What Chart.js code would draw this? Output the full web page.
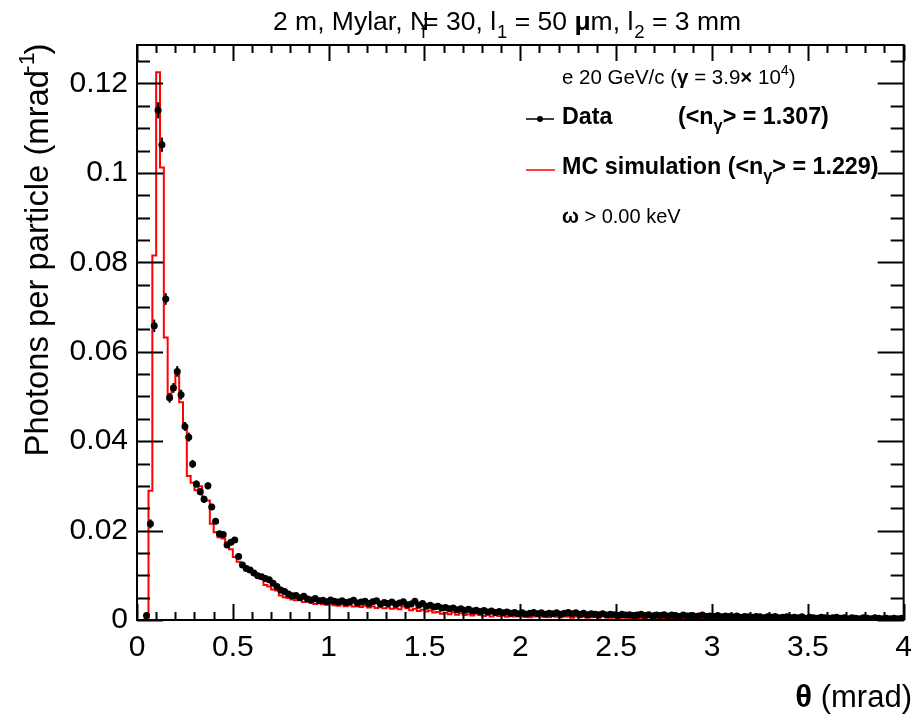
<!DOCTYPE html>
<html>
<head>
<meta charset="utf-8">
<script src="https://cdn.jsdelivr.net/npm/chart.js@4.4.1/dist/chart.umd.min.js"></script>
<style>
  html, body { margin: 0; padding: 0; background: #fff; }
  #wrap { width: 922px; height: 720px; }
</style>
</head>
<body>
<div id="wrap"><canvas id="myChart" width="922" height="720"></canvas></div>
<script>
// histogram binning (theta, mrad)
var binStart = 0, binWidth = 0.02;

// MC simulation, content of each 0.02 mrad bin
var mcValues = [
  0, 0, 0.0005, 0.0289, 0.0815, 0.1225, 0.1012, 0.0632, 0.0497, 0.0520,
  0.0553, 0.0487, 0.0433, 0.0322, 0.0307, 0.0290, 0.0299, 0.0267, 0.0267, 0.0215,
  0.0196, 0.0185, 0.0182, 0.0173, 0.0158, 0.0141, 0.0130, 0.0125, 0.0119, 0.0108,
  0.0104, 0.0097, 0.0098, 0.0078, 0.0075, 0.0068, 0.0066, 0.0055, 0.0051, 0.0049,
  0.0046, 0.0044, 0.0045, 0.0040, 0.0042, 0.0038, 0.0036, 0.0039, 0.0035, 0.0034,
  0.0036, 0.0033, 0.0032, 0.0034, 0.0031, 0.0033, 0.0030, 0.0031, 0.0029, 0.0032,
  0.0028, 0.0030, 0.0027, 0.0029, 0.0026, 0.0028, 0.0025, 0.0027, 0.0024, 0.0030,
  0.0026, 0.0022, 0.0025, 0.0020, 0.0023, 0.0019, 0.0021, 0.0017, 0.0018, 0.0014,
  0.0016, 0.0013, 0.0017, 0.0012, 0.0015, 0.0011, 0.0013, 0.0010, 0.0014, 0.0011,
  0.0009, 0.0012, 0.0008, 0.0011, 0.0009, 0.0010, 0.0007, 0.0009, 0.0008, 0.0010,
  0.0007, 0.0009, 0.0006, 0.0008, 0.0010, 0.0007, 0.0008, 0.0006, 0.0009, 0.0007,
  0.0006, 0.0008, 0.0007, 0.0005, 0.0008, 0.0006, 0.0007, 0.0005, 0.0006, 0.0007,
  0.0005, 0.0013, 0.0006, 0.0005, 0.0006, 0.0004, 0.0005, 0.0006, 0.0004, 0.0005,
  0.0004, 0.0005, 0.0004, 0.0006, 0.0004, 0.0005, 0.0003, 0.0004, 0.0005, 0.0004,
  0.0003, 0.0004, 0.0005, 0.0003, 0.0004, 0.0003, 0.0004, 0.0003, 0.0005, 0.0003,
  0.0004, 0.0003, 0.0002, 0.0004, 0.0003, 0.0003, 0.0004, 0.0002, 0.0003, 0.0004,
  0.0003, 0.0002, 0.0003, 0.0004, 0.0002, 0.0003, 0.0003, 0.0002, 0.0004, 0.0003,
  0.0002, 0.0003, 0.0002, 0.0003, 0.0004, 0.0002, 0.0003, 0.0002, 0.0003, 0.0002,
  0.0003, 0.0002, 0.0004, 0.0002, 0.0003, 0.0002, 0.0002, 0.0003, 0.0002, 0.0003,
  0.0002, 0.0003, 0.0002, 0.0002, 0.0003, 0.0002, 0.0003, 0.0002, 0.0002, 0.0003
];

// measured data, same bins (null = empty bin)
var dataValues = [
  null, null, 0.0010, 0.0215, 0.0658, 0.1140, 0.1063, 0.0718, 0.0497, 0.0519,
  0.0556, 0.0504, 0.0433, 0.0409, 0.0349, 0.0304, 0.0287, 0.0270, 0.0300, 0.0253,
  0.0221, 0.0193, 0.0191, 0.0168, 0.0174, 0.0179, 0.0142, 0.0123, 0.0115, 0.0112,
  0.0105, 0.0099, 0.0097, 0.0093, 0.0090, 0.0082, 0.0075, 0.0067, 0.0064, 0.0058,
  0.0054, 0.0055, 0.0050, 0.0053, 0.0047, 0.0045, 0.0048, 0.0043, 0.0044, 0.0041,
  0.0045, 0.0042, 0.0040, 0.0043, 0.0039, 0.0041, 0.0044, 0.0038, 0.0040, 0.0042,
  0.0037, 0.0041, 0.0043, 0.0036, 0.0039, 0.0037, 0.0040, 0.0035, 0.0038, 0.0041,
  0.0034, 0.0036, 0.0042, 0.0033, 0.0037, 0.0031, 0.0033, 0.0029, 0.0031, 0.0027,
  0.0028, 0.0025, 0.0027, 0.0023, 0.0025, 0.0022, 0.0024, 0.0020, 0.0022, 0.0019,
  0.0021, 0.0018, 0.0020, 0.0017, 0.0019, 0.0016, 0.0018, 0.0015, 0.0017, 0.0014,
  0.0016, 0.0013, 0.0015, 0.0017, 0.0014, 0.0016, 0.0013, 0.0015, 0.0014, 0.0016,
  0.0013, 0.0015, 0.0017, 0.0014, 0.0016, 0.0013, 0.0015, 0.0012, 0.0014, 0.0013,
  0.0012, 0.0014, 0.0011, 0.0013, 0.0012, 0.0010, 0.0013, 0.0011, 0.0012, 0.0010,
  0.0011, 0.0013, 0.0010, 0.0012, 0.0009, 0.0011, 0.0010, 0.0012, 0.0009, 0.0011,
  0.0010, 0.0008, 0.0011, 0.0009, 0.0010, 0.0008, 0.0009, 0.0011, 0.0008, 0.0009,
  0.0008, 0.0010, 0.0007, 0.0009, 0.0008, 0.0007, 0.0009, 0.0006, 0.0008, 0.0007,
  0.0006, 0.0008, 0.0007, 0.0005, 0.0007, 0.0006, 0.0008, 0.0005, 0.0006, 0.0007,
  0.0005, 0.0006, 0.0005, 0.0007, 0.0004, 0.0006, 0.0005, 0.0004, 0.0006, 0.0005,
  0.0004, 0.0005, 0.0006, 0.0004, 0.0005, 0.0003, 0.0005, 0.0004, 0.0003, 0.0005,
  0.0004, 0.0003, 0.0005, 0.0004, 0.0003, 0.0004, 0.0003, 0.0004, 0.0003, 0.0004
];

// statistical errors of the first data bins (rest hidden under the markers)
var dataErrors = [
  0, 0, 0.0004, 0.0010, 0.0014, 0.0018, 0.0016, 0.0013, 0.0011, 0.0011,
  0.0012, 0.0011, 0.0010, 0.0010, 0.0009, 0.0008, 0.0008, 0.0008, 0.0008, 0.0007,
  0.0007, 0.0006, 0.0006, 0.0006, 0.0006, 0.0006, 0.0005, 0.0005, 0.0005, 0.0005
];

var xTickLabels = [0, 0.5, 1, 1.5, 2, 2.5, 3, 3.5, 4];
var yTickLabels = [0, 0.02, 0.04, 0.06, 0.08, 0.1, 0.12];
var xMinorStep = 0.1, yMinorStep = 0.005;
var xMax = 4, yMax = 0.1286;

var FONT = '"Liberation Sans", Arial, Helvetica, sans-serif';

// build points
var mcPoints = [], dataPoints = [];
for (var i = 0; i < mcValues.length; i++) {
  var lo = binStart + i * binWidth;
  mcPoints.push({ x: lo, y: mcValues[i] });
  if (dataValues[i] !== null) {
    dataPoints.push({ x: lo + binWidth / 2, y: dataValues[i], e: dataErrors[i] || 0 });
  }
}
mcPoints.push({ x: binStart + mcValues.length * binWidth, y: mcValues[mcValues.length - 1] });

function fmt(v) { return String(Math.round(v * 1000) / 1000); }

// draw a string made of pieces (sub/superscripts, bold)
function richText(ctx, x, y, parts, size) {
  parts.forEach(function(p) {
    var s = p.s ? size * 0.7 : size;
    ctx.font = (p.b ? 'bold ' : '') + s + 'px ' + FONT;
    var dy = p.s === 'sub' ? size * 0.32 : (p.s === 'sup' ? -size * 0.42 : 0);
    ctx.fillText(p.t, x + (p.dx || 0), y + dy);
    var w = ctx.measureText(p.t).width;
    x += (p.adv !== undefined ? p.adv * w : w) + (p.dx || 0);
  });
  return x;
}
function richWidth(ctx, parts, size) {
  var w = 0;
  parts.forEach(function(p) {
    var s = p.s ? size * 0.7 : size;
    ctx.font = (p.b ? 'bold ' : '') + s + 'px ' + FONT;
    var m = ctx.measureText(p.t).width;
    w += (p.adv !== undefined ? p.adv * m : m) + (p.dx || 0);
  });
  return w;
}

var rootFrame = {
  id: 'rootFrame',
  afterDatasetsDraw: function(chart) {
    var ctx = chart.ctx, xs = chart.scales.x, ys = chart.scales.y;
    // error bars
    ctx.save();
    ctx.strokeStyle = '#000';
    ctx.lineWidth = 2;
    dataPoints.forEach(function(p) {
      if (!p.e) return;
      var px = xs.getPixelForValue(p.x);
      ctx.beginPath();
      ctx.moveTo(px, ys.getPixelForValue(p.y - p.e));
      ctx.lineTo(px, ys.getPixelForValue(p.y + p.e));
      ctx.stroke();
    });
    ctx.restore();
  },
  afterDraw: function(chart) {
    var ctx = chart.ctx, a = chart.chartArea, xs = chart.scales.x, ys = chart.scales.y;
    ctx.save();
    ctx.strokeStyle = '#000';
    ctx.lineWidth = 2;
    ctx.strokeRect(a.left, a.top, a.right - a.left, a.bottom - a.top);

    ctx.beginPath();
    var v, px, len;
    for (v = 0; v <= xMax + 1e-9; v += xMinorStep) {
      px = Math.round(xs.getPixelForValue(v)) + 0.5;
      var major = Math.abs(v / 0.5 - Math.round(v / 0.5)) < 1e-6;
      len = major ? 16 : 8;
      ctx.moveTo(px, a.bottom); ctx.lineTo(px, a.bottom - len);
      ctx.moveTo(px, a.top); ctx.lineTo(px, a.top + len);
    }
    for (v = 0; v <= yMax + 1e-9; v += yMinorStep) {
      var py = Math.round(ys.getPixelForValue(v)) + 0.5;
      var majorY = Math.abs(v / 0.02 - Math.round(v / 0.02)) < 1e-6;
      len = majorY ? 26 : 13;
      ctx.moveTo(a.left, py); ctx.lineTo(a.left + len, py);
      ctx.moveTo(a.right, py); ctx.lineTo(a.right - len, py);
    }
    ctx.stroke();

    ctx.fillStyle = '#000';
    ctx.textBaseline = 'alphabetic';
    ctx.textAlign = 'left';

    // title
    var tparts = [
      { t: '2 m, Mylar, N' },
      { t: 'f', s: 'sub', dx: -8, adv: 0.4 },
      { t: '= 30, l' },
      { t: '1', s: 'sub', dx: 1 },
      { t: ' = 50 ' },
      { t: '\u03bc', b: true },
      { t: 'm, l' },
      { t: '2', s: 'sub', dx: 1 },
      { t: ' = 3 mm' }
    ];
    var tw = richWidth(ctx, tparts, 26.5);
    richText(ctx, 507 - tw / 2, 30, tparts, 26.5);

    // y title (rotated)
    ctx.save();
    ctx.translate(48, 0);
    ctx.rotate(-Math.PI / 2);
    var yparts = [
      { t: 'Photons per particle (mrad' },
      { t: '-1', s: 'sup', dx: -3 },
      { t: ')' , dx: -2}
    ];
    var yw = richWidth(ctx, yparts, 32.8);
    richText(ctx, -250 - yw / 2, 0, yparts, 32.8);
    ctx.restore();

    // x title
    ctx.font = 'bold 31px ' + FONT;
    var thw = ctx.measureText('\u03b8').width;
    ctx.font = '31px ' + FONT;
    var mw = ctx.measureText(' (mrad)').width;
    var xr = 912;
    ctx.font = 'bold 31px ' + FONT;
    ctx.fillText('\u03b8', xr - mw - thw, 707);
    ctx.font = '31px ' + FONT;
    ctx.fillText(' (mrad)', xr - mw, 707);

    // legend
    richText(ctx, 562, 84, [
      { t: 'e 20 GeV/c (' },
      { t: '\u03b3', b: true },
      { t: ' = 3.9' },
      { t: '\u00d7', b: true },
      { t: ' 10' },
      { t: '4', s: 'sup' },
      { t: ')' }
    ], 20.5);
    richText(ctx, 562, 124, [{ t: 'Data', b: true }], 23.3);
    richText(ctx, 678, 124, [
      { t: '(<n', b: true },
      { t: '\u03b3', b: true, s: 'sub' },
      { t: '> = 1.307)', b: true }
    ], 23.3);
    richText(ctx, 562, 174, [
      { t: 'MC simulation (<n', b: true },
      { t: '\u03b3', b: true, s: 'sub' },
      { t: '> = 1.229)', b: true }
    ], 23.3);
    richText(ctx, 562, 223, [
      { t: '\u03c9', b: true },
      { t: ' > 0.00 keV' }
    ], 20);

    ctx.lineWidth = 1.5;
    ctx.strokeStyle = '#000';
    ctx.beginPath(); ctx.moveTo(526, 119); ctx.lineTo(554, 119); ctx.stroke();
    ctx.beginPath(); ctx.arc(540, 119, 3, 0, Math.PI * 2); ctx.fill();
    ctx.strokeStyle = '#ff0000';
    ctx.beginPath(); ctx.moveTo(526, 170); ctx.lineTo(555, 170); ctx.stroke();

    ctx.restore();
  }
};

var ctx = document.getElementById('myChart').getContext('2d');
var chart = new Chart(ctx, {
  type: 'scatter',
  data: {
    datasets: [{
      label: 'Data',
      data: dataPoints,
      showLine: false,
      pointRadius: 3.5,
      pointBackgroundColor: '#000',
      pointBorderColor: '#000',
      pointBorderWidth: 0
    }, {
      label: 'MC simulation',
      data: mcPoints,
      showLine: true,
      stepped: 'before',
      borderColor: '#ff0000',
      borderWidth: 2,
      pointRadius: 0,
      fill: false
    }]
  },
  options: {
    responsive: false,
    animation: false,
    devicePixelRatio: 1,
    layout: { padding: { top: 45, right: 13, left: 0, bottom: 0 } },
    plugins: { legend: { display: false }, tooltip: { enabled: false } },
    scales: {
      x: {
        type: 'linear', min: 0, max: xMax,
        grid: { display: false, drawTicks: false },
        border: { display: false },
        afterBuildTicks: function(s) { s.ticks = xTickLabels.map(function(v) { return { value: v }; }); },
        afterFit: function(s) { s.height = 100; },
        ticks: {
          autoSkip: false, maxRotation: 0, padding: 10, color: '#000',
          font: { size: 30, family: FONT },
          callback: function(v) { return fmt(v); }
        }
      },
      y: {
        type: 'linear', min: 0, max: yMax,
        grid: { display: false, drawTicks: false },
        border: { display: false },
        afterBuildTicks: function(s) { s.ticks = yTickLabels.map(function(v) { return { value: v }; }); },
        afterFit: function(s) { s.width = 137; },
        ticks: {
          autoSkip: false, padding: 9, color: '#000',
          font: { size: 30, family: FONT },
          callback: function(v) { return fmt(v); }
        }
      }
    }
  },
  plugins: [rootFrame]
});
</script>
</body>
</html>
